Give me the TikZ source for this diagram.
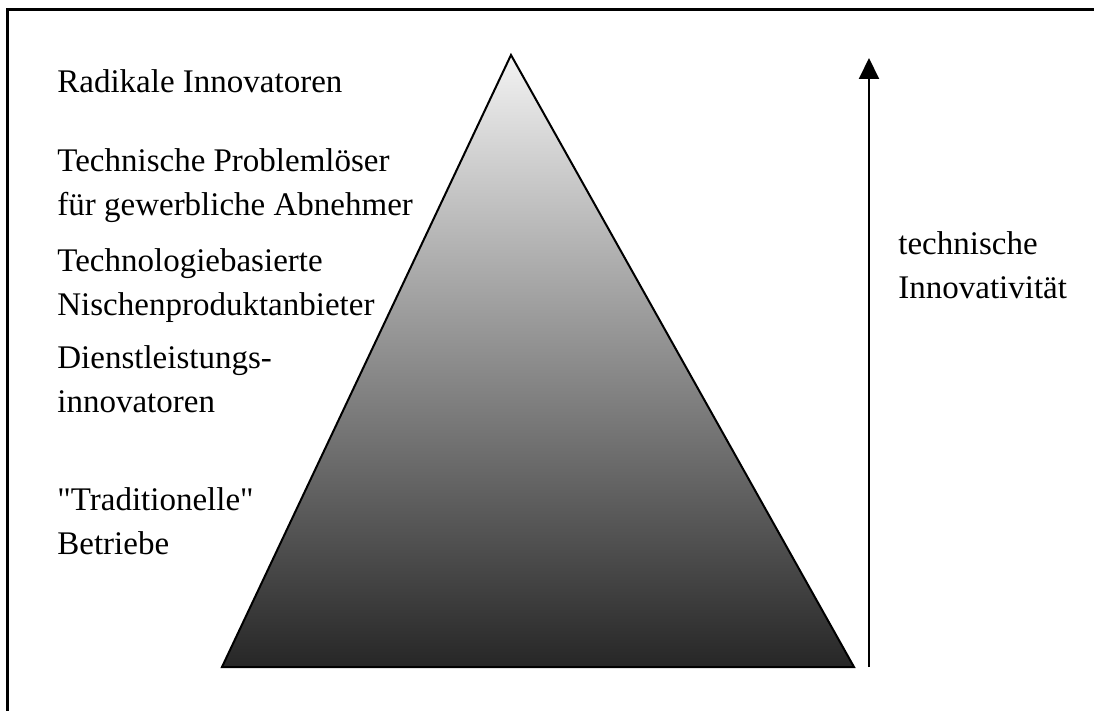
\documentclass[tikz,border=0pt]{standalone}
\usepackage{fontspec}
\setmainfont{Liberation Serif}[Ligatures=TeXOff]
\usetikzlibrary{arrows.meta}
\tikzset{
  stufe/.style={anchor=base west, inner sep=0pt, align=left, font=\fontsize{16.5}{22}\selectfont},
}
\begin{document}
\begin{tikzpicture}[x=0.5pt, y=-0.5pt]
  \useasboundingbox (0,0) rectangle (1094,711);
  % Rahmen
  \draw[line width=1.5pt] (7,711) -- (7,10) -- (1094,10);

  % Pyramide
  \coordinate (spitze) at (511,55);
  \coordinate (basisL) at (222,667);
  \coordinate (basisR) at (854,667);
  \shade[top color=black!5, bottom color=black!85] (spitze) -- (basisL) -- (basisR) -- cycle;
  \draw[line width=1pt] (spitze) -- (basisL) -- (basisR) -- cycle;

  % Stufen (base = letzte Zeile)
  \node[stufe] (radikal) at (57,93) {Radikale Innovatoren};
  \node[stufe] (problem) at (57,216) {Technische Problemlöser\\für gewerbliche Abnehmer};
  \node[stufe] (nische) at (57,316) {Technologiebasierte\\Nischenproduktanbieter};
  \node[stufe] (dienst) at (57,413) {Dienstleistungs-\\innovatoren};
  \node[stufe] (tradition) at (57,555) {"Traditionelle"\\Betriebe};

  % Achse
  \coordinate (fuss) at (869,667);
  \coordinate (kopf) at (869,58);
  \draw[line width=1pt, -{Triangle[length=10.5pt, width=10pt]}] (fuss) -- (kopf);
  \node[stufe] (innov) at (898,299) {technische\\Innovativität};
\end{tikzpicture}
\end{document}
